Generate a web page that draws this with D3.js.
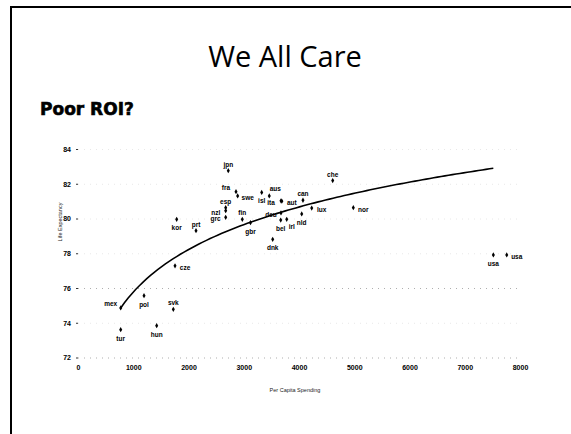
<!DOCTYPE html>
<html><head><meta charset="utf-8">
<script src="https://cdn.jsdelivr.net/npm/d3@7/dist/d3.min.js"></script>
<style>
html,body{margin:0;padding:0;background:#fff;}
svg{display:block;}
svg text{-webkit-font-smoothing:antialiased;}
</style></head>
<body>
<svg id="chart" width="571" height="434"></svg>
<script>
// ---- data ----
const countries = ["jpn","fra","swe","isl","aus","ita","aut","can","lux","nld","che","nor","deu","bel","gbr","irl","dnk","fin","grc","nzl","esp","kor","prt","cze","mex","pol","svk","tur","hun","usa","usa"];
const spending  = [2720,2860,2890,3325,3462,3674,3690,4072,4230,4049,4610,4983,3674,3669,3122,3778,3524,2974,2673,2673,2673,1786,2136,1756,773,1195,1725,773,1424,7518,7760];
const lifeExp   = [82.75,81.54,81.3,81.5,81.3,81.02,81.0,81.05,80.6,80.26,82.18,80.62,80.32,79.91,79.76,79.95,78.8,79.95,80.07,80.45,80.62,79.95,79.3,77.28,74.85,75.56,74.77,73.6,73.83,77.9,77.9];
const labelSide = ["t","tl","r","b","tr","l","r","t","r","b","t","r","l","b","b","br","b","t","l","l","t","b","t","r","tl","b","t","b","b","b","r"];
const xTicks = [0,1000,2000,3000,4000,5000,6000,7000,8000];
const yTicks = [72,74,76,78,80,82,84];
const strongGrid = [72,76];
const trendRange = [773, 7517];
const trendIntercept = 51.35, trendSlope = 3.534;
const title = "We All Care", subtitle = "Poor ROI?";
const xTitle = "Per Capita Spending", yTitle = "Life Expectancy";

// ---- drawing ----
const svg = d3.select("#chart");
const root = svg.append("g").attr("opacity",0.999);
const x = d3.scaleLinear().domain([0,8000]).range([78,520]);
const y = d3.scaleLinear().domain([72,84]).range([357.5,149]);

// slide border
root.append("path").attr("d","M11,434 L11,7 L571,7").attr("fill","none").attr("stroke","#000").attr("stroke-width",2);

root.append("text").attr("x",285).attr("y",67).attr("text-anchor","middle")
  .style("font-family","'Open Sans',sans-serif").style("font-size","29px").attr("fill","#000").text(title);
root.append("text").attr("x",40).attr("y",115)
  .style("font-family","'DejaVu Sans',sans-serif").style("font-weight","bold").style("font-size","17px")
  .attr("stroke","#000").attr("stroke-width",0.6).attr("fill","#000").text(subtitle);

// gridlines
const grid = root.append("g").attr("transform",`translate(${x(0)},0)`)
  .call(d3.axisLeft(y).tickValues(yTicks).tickSize(-(x(8000)-x(0))).tickFormat(""));
grid.select(".domain").remove();
grid.selectAll("line")
  .attr("stroke",d=>strongGrid.includes(d)?"#999":"#e2e2e2")
  .attr("stroke-width",0.8).attr("stroke-dasharray","1,5");

// y axis ticks & labels
const ya = root.append("g").attr("transform",`translate(${x(0)},0)`)
  .call(d3.axisLeft(y).tickValues(yTicks).tickSize(2).tickPadding(5).tickFormat(d3.format("d")));
ya.select(".domain").remove();
ya.selectAll("line").attr("stroke","#333");
ya.selectAll("text").style("font-family","'Liberation Sans',Arial,sans-serif").style("font-weight","bold").style("font-size","7px").attr("fill","#000");

// x axis labels
const xa = root.append("g").attr("transform",`translate(0,${y(72)})`)
  .call(d3.axisBottom(x).tickValues(xTicks).tickSize(0).tickPadding(8).tickFormat(d3.format("d")));
xa.select(".domain").remove();
xa.selectAll("text").style("font-family","'Liberation Sans',Arial,sans-serif").style("font-weight","bold").style("font-size","7px").attr("fill","#000");

// axis titles
root.append("text").attr("x",295).attr("y",392).attr("text-anchor","middle")
  .style("font-family","'Liberation Sans',Arial,sans-serif").style("font-size","5.5px").attr("fill","#222").text(xTitle);
root.append("text").attr("transform","translate(62,222) rotate(-90)").attr("text-anchor","middle")
  .style("font-family","'Liberation Sans',Arial,sans-serif").style("font-size","5.5px").attr("fill","#222").text(yTitle);

// trend line
const tx = d3.range(0,101).map(i => trendRange[0] + (trendRange[1]-trendRange[0])*i/100);
root.append("path").datum(tx)
  .attr("d", d3.line().x(d=>x(d)).y(d=>y(trendIntercept + trendSlope*Math.log(d))))
  .attr("fill","none").attr("stroke","#000").attr("stroke-width",1.6);

// points
const pts = countries.map((c,i)=>({c, sx:spending[i], le:lifeExp[i], side:labelSide[i]}));
const off = {t:[0,-6],b:[0,9],l:[-10,2],r:[10,2],tl:[-10,-4],tr:[6,-7],br:[5,8]};
const sym = d3.symbol().type(d3.symbolDiamond).size(8);
const g = root.append("g");
g.selectAll("path.pt").data(pts).join("path").attr("class","pt")
  .attr("transform",d=>`translate(${x(d.sx)},${y(d.le)})`).attr("d",sym).attr("fill","#000");
g.selectAll("text.lb").data(pts).join("text").attr("class","lb")
  .attr("x",d=>x(d.sx)+off[d.side][0]).attr("y",d=>y(d.le)+off[d.side][1]+2)
  .attr("text-anchor","middle")
  .style("font-family","'Liberation Sans',Arial,sans-serif").style("font-weight","bold").style("font-size","6.5px").attr("fill","#000")
  .text(d=>d.c);
</script>
</body></html>
